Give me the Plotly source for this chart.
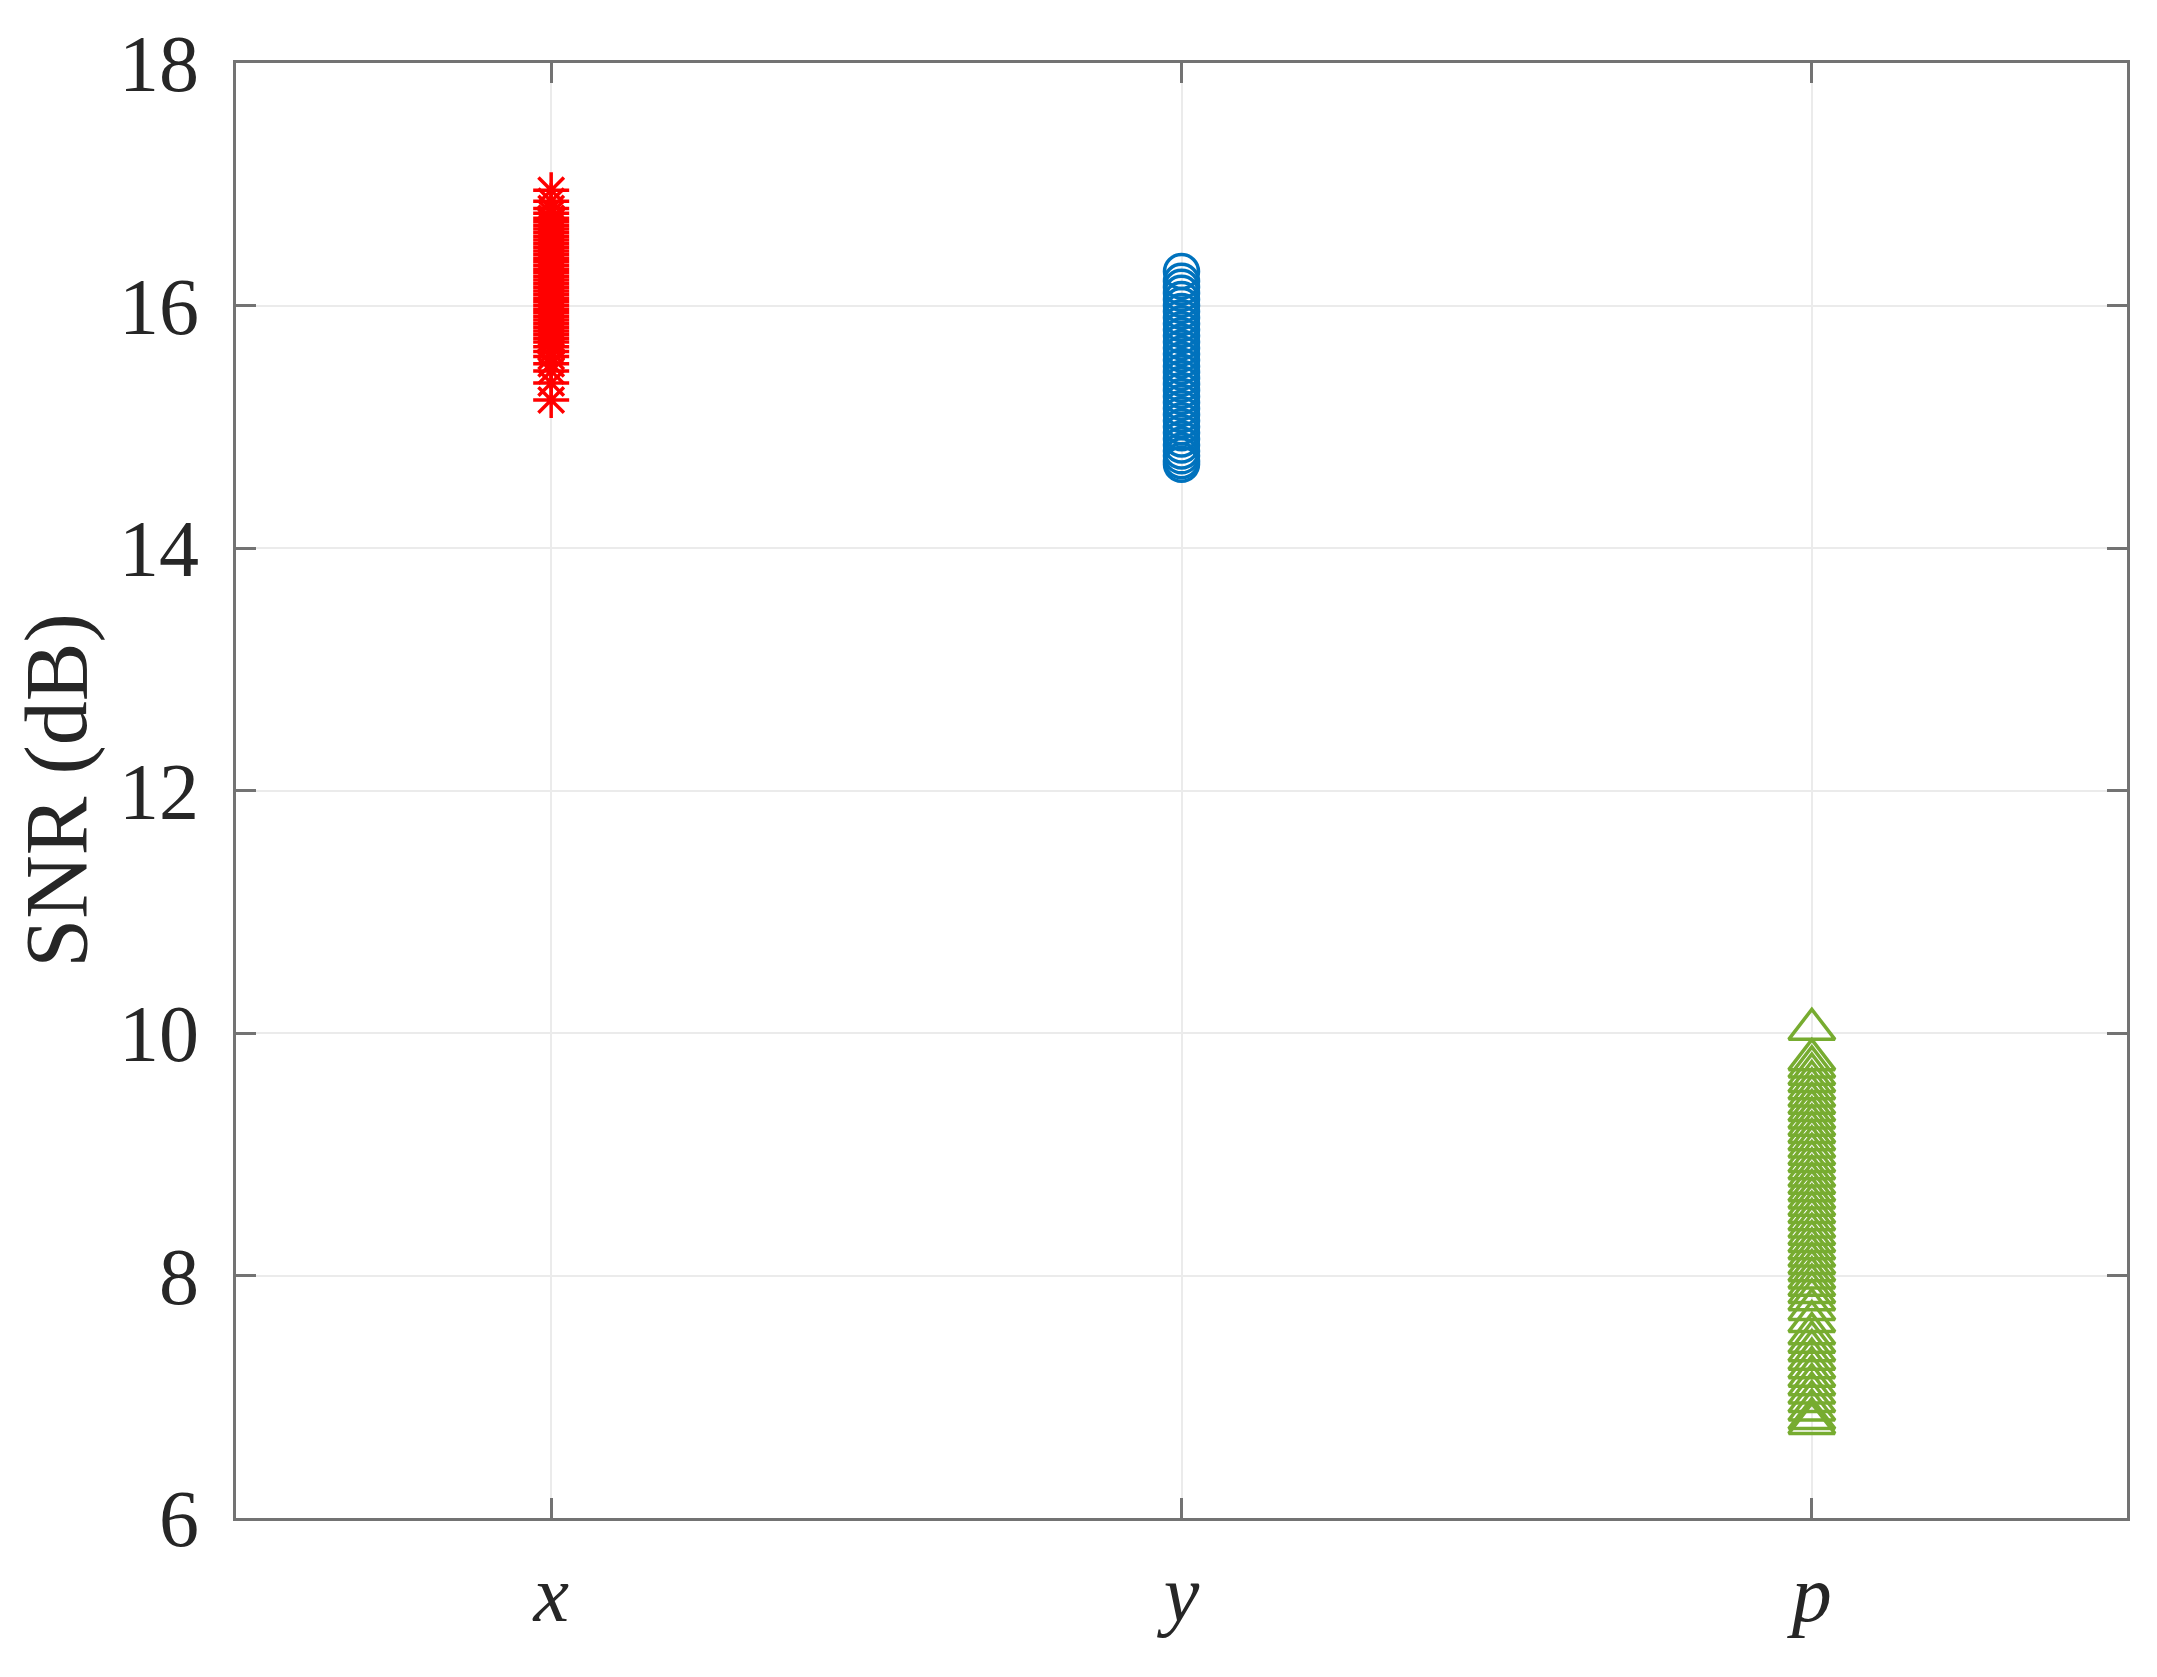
import plotly.graph_objects as go

# === Data ===
categories = ["x", "y", "p"]
tick_text = ["<i>x</i>", "<i>y</i>", "<i>p</i>"]

snr_x = [16.95, 16.86, 16.80, 16.76, 16.72, 16.69, 16.66, 16.63, 16.60, 16.57,
         16.54, 16.51, 16.48, 16.45, 16.42, 16.39, 16.36, 16.33, 16.30, 16.27,
         16.24, 16.21, 16.18, 16.15, 16.12, 16.09, 16.06, 16.03, 16.00, 15.97,
         15.94, 15.91, 15.88, 15.85, 15.82, 15.79, 15.76, 15.73, 15.70, 15.66,
         15.62, 15.58, 15.52, 15.46, 15.36, 15.22]
snr_y = [16.28, 16.20, 16.15, 16.10, 16.05, 16.00, 15.95, 15.90, 15.85, 15.80,
         15.75, 15.70, 15.65, 15.60, 15.55, 15.50, 15.45, 15.40, 15.35, 15.30,
         15.25, 15.20, 15.15, 15.10, 15.05, 15.00, 14.95, 14.90, 14.85, 14.80,
         14.76, 14.72, 14.69]
snr_p = [10.03, 9.78, 9.72, 9.66, 9.60, 9.54, 9.48, 9.42, 9.36, 9.30,
         9.24, 9.18, 9.12, 9.06, 9.00, 8.94, 8.88, 8.82, 8.76, 8.70,
         8.64, 8.58, 8.52, 8.46, 8.40, 8.34, 8.28, 8.22, 8.16, 8.10,
         8.04, 7.98, 7.92, 7.86, 7.80, 7.72, 7.62, 7.52, 7.45, 7.38,
         7.31, 7.24, 7.17, 7.10, 7.03, 6.96, 6.89, 6.82, 6.78]

y_ticks = [6, 8, 10, 12, 14, 16, 18]

# === Plot ===
fig = go.Figure()
fig.add_trace(go.Scatter(
    x=[categories[0]] * len(snr_x), y=snr_x, mode="markers", name="x",
    marker=dict(symbol="asterisk-open", size=30, color="#FF0000",
                line=dict(color="#FF0000", width=3.5)),
))
fig.add_trace(go.Scatter(
    x=[categories[1]] * len(snr_y), y=snr_y, mode="markers", name="y",
    marker=dict(symbol="circle-open", size=34, color="#0072BD",
                line=dict(color="#0072BD", width=3.5)),
))
fig.add_trace(go.Scatter(
    x=[categories[2]] * len(snr_p), y=snr_p, mode="markers", name="p",
    marker=dict(symbol="triangle-up-open", size=40, color="#77AC30",
                line=dict(color="#77AC30", width=3.5)),
))

axis_common = dict(
    showline=True, linecolor="#737373", linewidth=3, mirror="allticks",
    ticks="inside", ticklen=20, tickwidth=3, tickcolor="#737373",
    showgrid=True, gridcolor="#EBEBEB", gridwidth=2, zeroline=False,
    ticklabeloverflow="allow",
    tickfont=dict(family="Liberation Serif, Times New Roman, serif", size=80,
                  color="#262626"),
)

fig.update_layout(
    width=2157, height=1677,
    margin=dict(l=228, r=38, t=50, b=167),
    plot_bgcolor="white", paper_bgcolor="white",
    showlegend=False,
    xaxis=dict(
        **axis_common,
        type="category", categoryorder="array", categoryarray=categories,
        range=[-0.5, 2.5], tickvals=categories, ticktext=tick_text,
        ticklabelstandoff=4,
    ),
    yaxis=dict(
        **axis_common,
        range=[6, 18], tickvals=y_ticks, ticklabelstandoff=18,
        title=dict(text="SNR (dB)", standoff=30,
                   font=dict(family="Liberation Serif, Times New Roman, serif",
                             size=88, color="#262626")),
    ),
)

fig.write_html("out.html")
